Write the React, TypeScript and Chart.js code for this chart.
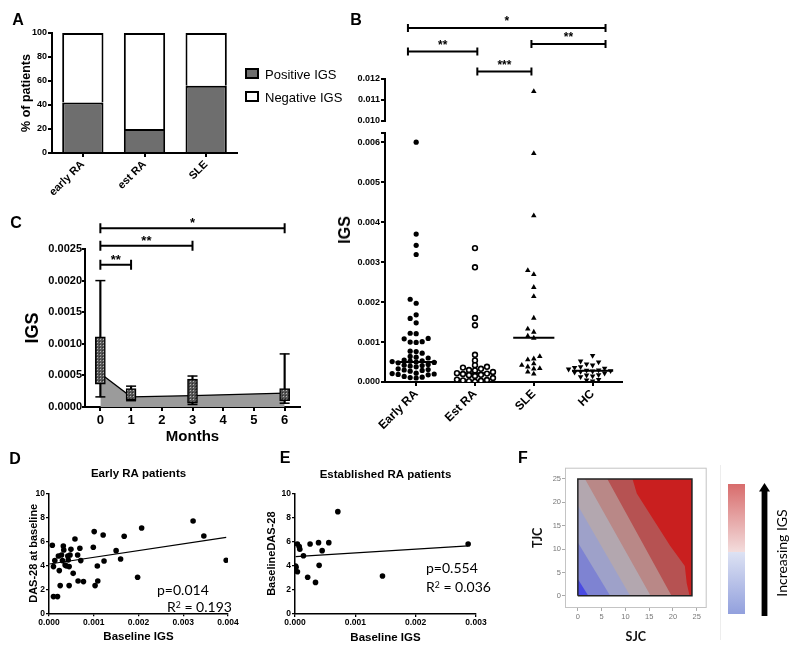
import React, { useEffect, useRef } from "react";
import { Chart, registerables } from "chart.js";

Chart.register(...registerables);

const FONT = "'Liberation Sans', Arial, Helvetica, sans-serif";
const CAL = "Lato, 'Open Sans', sans-serif";
Chart.defaults.font.family = FONT;
Chart.defaults.color = "#000";

// ---------------- Panel A data ----------------
const aCategories = ["early RA", "est RA", "SLE"];
const aPositive = [42, 20, 56];
const aNegative = [58, 80, 44];
const aLegend = ["Positive IGS", "Negative IGS"];
const aTicks = [0, 20, 40, 60, 80, 100];

// ---------------- Panel B data ----------------
const bCategories = ["Early RA", "Est RA", "SLE", "HC"];
const bEarlyRA = [0.006, 0.0037, 0.00342, 0.00319, 0.00207, 0.00197, 0.00168, 0.00159, 0.00148, 0.00122, 0.00121, 0.00109, 0.00108, 0.00101, 0.001, 0.00099, 0.00077, 0.00076, 0.00072, 0.00064, 0.00062, 0.0006, 0.00055, 0.00053, 0.00052, 0.00051, 0.0005, 0.00049, 0.00048, 0.00044, 0.00042, 0.00041, 0.0004, 0.00038, 0.00033, 0.00031, 0.0003, 0.00029, 0.00027, 0.00022, 0.00021, 0.0002, 0.00019, 0.00018, 0.00014, 0.00012, 0.00011, 0.0001];
const bEstRA = [0.00335, 0.00287, 0.0016, 0.00142, 0.00068, 0.00054, 0.00042, 0.00038, 0.00036, 0.00033, 0.0003, 0.00029, 0.00025, 0.00022, 0.00021, 0.0002, 0.00018, 0.00017, 0.00015, 0.0001, 0.00006, 0.00005, 0.00004, 0.00003, 0.00002, 0.00001];
const bSLE = [0.0114, 0.00572, 0.00416, 0.00279, 0.00269, 0.00237, 0.00214, 0.0016, 0.00133, 0.00125, 0.00115, 0.0011, 0.00064, 0.00058, 0.00056, 0.00046, 0.00042, 0.00038, 0.00034, 0.00033, 0.00025, 0.0002];
const bHC = [0.00066, 0.00052, 0.0005, 0.00045, 0.00042, 0.00038, 0.00036, 0.00034, 0.00032, 0.0003, 0.00029, 0.00028, 0.00027, 0.00026, 0.00024, 0.00022, 0.00018, 0.00017, 0.00015, 0.00013, 0.00006, 0.00005, 0.00002];
const bMedians = [0.0005, 0.00022, 0.00111, 0.00028];
const bLowerTicks = [0, 0.001, 0.002, 0.003, 0.004, 0.005, 0.006];
const bLowerMax = 0.00622;
const bUpperTicks = [0.01, 0.011, 0.012];
const bBracketFrom = [-0.14, -0.14, 1.96, 1.04];
const bBracketTo = [3.22, 1.04, 3.22, 1.96];
const bBracketLevel = [0.01445, 0.01332, 0.01368, 0.01236];
const bBracketLabel = ["*", "**", "**", "***"];

// ---------------- Panel C data ----------------
const cMonths = [0, 1, 3, 6];
const cMedian = [0.00053, 0.00016, 0.00018, 0.00022];
const cQ1 = [0.00036, 0.00011, 0.00006, 0.0001];
const cQ3 = [0.00111, 0.00029, 0.00044, 0.00029];
const cMin = [0.00016, 0.0001, 0.00004, 0.00006];
const cMax = [0.002, 0.00033, 0.00049, 0.00084];
const cXTicks = [0, 1, 2, 3, 4, 5, 6];
const cYTicks = [0, 0.0005, 0.001, 0.0015, 0.002, 0.0025];
const cBracketFrom = [0, 0, 0];
const cBracketTo = [6, 3, 1];
const cBracketLevel = [0.00283, 0.00255, 0.00225];
const cBracketLabel = ["*", "**", "**"];

// ---------------- Panel D data ----------------
const dX = [0.000074, 0.0001, 0.0001, 0.00019, 0.00013, 0.00021, 0.00023, 0.00025, 0.00028, 0.0003, 0.00032, 0.00033, 0.00036, 0.00039, 0.00042, 0.00043, 0.00045, 0.00047, 0.00045, 0.00049, 0.00054, 0.00058, 0.00064, 0.00065, 0.00069, 0.00071, 0.00077, 0.00101, 0.00099, 0.00103, 0.00108, 0.00109, 0.00121, 0.00123, 0.0015, 0.0016, 0.00168, 0.00198, 0.00207, 0.00322, 0.00346, 0.00396];
const dY = [5.67, 3.89, 1.39, 1.39, 4.39, 4.78, 3.56, 2.31, 4.86, 4.39, 5.61, 5.28, 4.03, 3.94, 4.78, 4.44, 3.89, 4.86, 2.31, 5.33, 3.33, 6.19, 4.86, 2.69, 5.42, 4.39, 2.64, 6.81, 5.5, 2.31, 3.94, 2.69, 6.53, 4.36, 5.22, 4.53, 6.42, 3.0, 7.11, 7.69, 6.44, 4.42];
const dFitX = [0.00001, 0.00396];
const dFitY = [4.11, 6.33];
const dXTicks = [0, 0.001, 0.002, 0.003, 0.004];
const dYTicks = [0, 2, 4, 6, 8, 10];

// ---------------- Panel E data ----------------
const eX = [0.00001, 0.000017, 0.00004, 0.00004, 0.00007, 0.00008, 0.00014, 0.00021, 0.00025, 0.00034, 0.00039, 0.0004, 0.00045, 0.00056, 0.00071, 0.00145, 0.00287];
const eY = [3.98, 3.87, 3.5, 5.8, 5.58, 5.36, 4.83, 3.04, 5.8, 2.62, 5.91, 4.03, 5.25, 5.91, 8.48, 3.15, 5.8];
const eFitX = [0.00001, 0.00287];
const eFitY = [4.75, 5.64];
const eXTicks = [0, 0.001, 0.002, 0.003];
const eYTicks = [0, 2, 4, 6, 8, 10];

// ---------------- Panel F data ----------------
const fTicks = [0, 5, 10, 15, 20, 25];
const fSjcMax = 24;
const fTjcMax = 25;
const fBandColors = ["#4a4ae2", "#7e83d2", "#9ea1c9", "#b3a7af", "#b98887", "#b65252", "#c91f1f"];
const fBoundaryX = [
  [0, 2.2, 24],
  [0, 6.8, 24],
  [0, 11.0, 24],
  [0, 1.5, 15.3, 24],
  [0, 6.2, 19.7, 24],
  [0, 11.5, 12.4, 19.4, 22.5, 22.9, 23.5, 24],
];
const fBoundaryY = [
  [3.6, 0, 0],
  [11.4, 0, 0],
  [19.3, 0, 0],
  [25, 25, 0, 0],
  [25, 25, 0, 0],
  [25, 25, 21.9, 10.7, 6.4, 2.7, 0, 0],
];

// ---------------- helpers ----------------
const fixedWidth = (w: number) => (s: any) => { s.width = w; };
const fixedHeight = (h: number) => (s: any) => { s.height = h; };
const setTicks = (vals: number[]) => (s: any) => { s.ticks = vals.map((v) => ({ value: v })); };
const zip = (xs: number[], ys: number[]) => xs.map((x, i) => ({ x, y: ys[i] }));

// beeswarm layout (pixel space) -> x offsets in category units
const B_PX_X = 58.8;
const B_PX_Y = 40514;
function swarm(values: number[], minDist: number, step: number): number[] {
  const idx = values.map((_, i) => i).sort((a, b) => values[a] - values[b]);
  const placed: { x: number; y: number }[] = [];
  const out = new Array(values.length).fill(0);
  for (const i of idx) {
    const py = values[i] * B_PX_Y;
    for (let k = 0; k < 60; k++) {
      const cand = k === 0 ? 0 : (k % 2 === 1 ? -1 : 1) * Math.ceil(k / 2) * step;
      if (placed.every((p) => Math.hypot(p.x - cand, p.y - py) >= minDist)) {
        placed.push({ x: cand, y: py });
        out[i] = cand / B_PX_X;
        break;
      }
    }
  }
  return out;
}

const bracketPlugin = {
  id: "brackets",
  afterDraw(chart: any, _args: any, opts: any) {
    if (!opts || !opts.from) return;
    const { ctx, scales } = chart;
    const x = scales.x;
    const y = scales.y;
    ctx.save();
    ctx.strokeStyle = "#000";
    ctx.fillStyle = "#000";
    ctx.lineWidth = opts.lineWidth;
    ctx.font = opts.font;
    ctx.textAlign = "center";
    ctx.textBaseline = "alphabetic";
    for (let i = 0; i < opts.from.length; i++) {
      const x1 = x.getPixelForValue(opts.from[i]);
      const x2 = x.getPixelForValue(opts.to[i]);
      const py = y.getPixelForValue(opts.level[i]);
      ctx.beginPath();
      ctx.moveTo(x1, py);
      ctx.lineTo(x2, py);
      ctx.moveTo(x1, py - opts.cap);
      ctx.lineTo(x1, py + opts.cap);
      ctx.moveTo(x2, py - opts.cap);
      ctx.lineTo(x2, py + opts.cap);
      ctx.stroke();
      ctx.fillText(opts.label[i], (x1 + x2) / 2, py - opts.gap);
    }
    ctx.restore();
  },
};

const framePlugin = {
  id: "frame",
  afterDraw(chart: any, _a: any, opts: any) {
    if (!opts || !opts.color) return;
    const { ctx, chartArea: a } = chart;
    ctx.save();
    ctx.strokeStyle = opts.color;
    ctx.lineWidth = 1;
    ctx.strokeRect(a.left + 0.5, a.top + 0.5, a.width - 1, a.height - 1);
    ctx.restore();
  },
};

const axisGrid = (len: number, w: number) => ({ drawOnChartArea: false, drawTicks: true, tickLength: len, color: "#000", lineWidth: w });
const base = (padding: any) => ({
  responsive: false,
  animation: false,
  devicePixelRatio: 1,
  events: [],
  layout: { padding },
  plugins: { legend: { display: false }, tooltip: { enabled: false }, title: { display: false } },
});

// ---------------- configs ----------------
function configA() {
  return {
    type: "bar",
    data: {
      labels: aCategories,
      datasets: [
        { label: aLegend[0], data: aPositive, backgroundColor: "#6e6e6e", borderColor: "#000", borderWidth: 2, barPercentage: 0.67, categoryPercentage: 1 },
        { label: aLegend[1], data: aNegative, backgroundColor: "#fff", borderColor: "#000", borderWidth: 2, barPercentage: 0.67, categoryPercentage: 1 },
      ],
    },
    options: {
      ...base({ top: 33, right: 8, left: 0, bottom: 0 }),
      scales: {
        x: {
          stacked: true,
          grid: { ...axisGrid(4, 2), offset: false },
          border: { color: "#000", width: 2 },
          ticks: { font: { size: 11, weight: "bold" }, minRotation: 45, maxRotation: 45, padding: 1, autoSkip: false },
          afterFit: fixedHeight(47),
        },
        y: {
          stacked: true,
          min: 0,
          max: 100,
          afterBuildTicks: setTicks(aTicks),
          ticks: { font: { size: 9, weight: "bold" }, padding: 1 },
          grid: axisGrid(4, 2),
          border: { color: "#000", width: 2 },
          title: { display: true, text: "% of patients", font: { size: 12.5, weight: "bold" }, padding: { top: 19, bottom: 0 } },
          afterFit: fixedWidth(52),
        },
      },
    },
  };
}

const bGroups = [bEarlyRA, bEstRA, bSLE, bHC];
const bOffsets = bGroups.map((g) => swarm(g, 4.7, 6.0));
const bStyles = [
  { pointStyle: "circle", pointRadius: 2.6, pointBackgroundColor: "#000", pointBorderColor: "#000", pointBorderWidth: 0 },
  { pointStyle: "circle", pointRadius: 2.4, pointBackgroundColor: "#fff", pointBorderColor: "#000", pointBorderWidth: 1.6 },
  { pointStyle: "triangle", pointRadius: 3.2, pointBackgroundColor: "#000", pointBorderColor: "#000", pointBorderWidth: 0 },
  { pointStyle: "triangle", pointRotation: 180, pointRadius: 3.2, pointBackgroundColor: "#000", pointBorderColor: "#000", pointBorderWidth: 0 },
];

function bDatasets(lo: number, hi: number) {
  const pts = bGroups.map((g, gi) => ({
    type: "scatter",
    label: bCategories[gi],
    data: g.map((v, i) => ({ x: gi + bOffsets[gi][i], y: v })).filter((p) => p.y >= lo && p.y <= hi),
    ...bStyles[gi],
  }));
  const meds = bMedians
    .map((m, i) => ({
      type: "line",
      label: "median " + bCategories[i],
      data: [{ x: i - 0.35, y: m }, { x: i + 0.35, y: m }],
      borderColor: "#000",
      borderWidth: 2,
      pointRadius: 0,
    }))
    .filter((d) => d.data[0].y >= lo && d.data[0].y <= hi);
  return [...pts, ...meds];
}

function configBUpper() {
  return {
    type: "scatter",
    data: { datasets: bDatasets(0.0095, 0.0125) },
    plugins: [bracketPlugin],
    options: {
      ...base({ top: 79, right: 8, left: 0, bottom: 4 }),
      plugins: {
        legend: { display: false },
        tooltip: { enabled: false },
        brackets: { from: bBracketFrom, to: bBracketTo, level: bBracketLevel, label: bBracketLabel, lineWidth: 2, cap: 4, gap: 3, font: "bold 12px " + FONT },
      },
      scales: {
        x: { type: "linear", min: -0.53, max: 3.5, display: false },
        y: {
          min: 0.01,
          max: 0.012,
          afterBuildTicks: setTicks(bUpperTicks),
          ticks: { font: { size: 9, weight: "bold" }, padding: 1, callback: (v: any) => Number(v).toFixed(3) },
          grid: axisGrid(4, 2),
          border: { color: "#000", width: 2 },
          afterFit: fixedWidth(55),
        },
      },
    },
  };
}

function configBLower() {
  return {
    type: "scatter",
    data: { datasets: bDatasets(0, bLowerMax) },
    options: {
      ...base({ top: 3, right: 8, left: 0, bottom: 0 }),
      scales: {
        x: {
          type: "linear",
          min: -0.53,
          max: 3.5,
          afterBuildTicks: setTicks([0, 1, 2, 3]),
          ticks: { font: { size: 12, weight: "bold" }, minRotation: 45, maxRotation: 45, padding: 1, autoSkip: false, callback: (v: any) => bCategories[Math.round(Number(v))] ?? "" },
          grid: axisGrid(4, 2),
          border: { color: "#000", width: 2 },
          afterFit: fixedHeight(48),
        },
        y: {
          min: 0,
          max: bLowerMax,
          afterBuildTicks: setTicks([...bLowerTicks, bLowerMax]),
          ticks: { font: { size: 9, weight: "bold" }, padding: 1, callback: (v: any) => (Number(v) > 0.0061 ? "" : Number(v).toFixed(3)) },
          grid: axisGrid(4, 2),
          border: { color: "#000", width: 2 },
          afterFit: fixedWidth(55),
        },
      },
    },
  };
}

function makePattern(canvas: HTMLCanvasElement) {
  const c = document.createElement("canvas");
  c.width = 3;
  c.height = 3;
  const g = c.getContext("2d")!;
  g.fillStyle = "#575757";
  g.fillRect(0, 0, 3, 3);
  g.fillStyle = "#b8b8b8";
  g.fillRect(1, 1, 1, 1);
  g.fillStyle = "#2e2e2e";
  g.fillRect(0, 0, 1, 1);
  return canvas.getContext("2d")!.createPattern(c, "repeat");
}

function configC(canvas: HTMLCanvasElement) {
  const pattern = makePattern(canvas);
  return {
    type: "bar",
    data: {
      datasets: [
        { type: "bar", label: "IQR", data: cMonths.map((m, i) => ({ x: m, y: [cQ1[i], cQ3[i]] })), backgroundColor: pattern, borderColor: "#000", borderWidth: 1.5, borderSkipped: false, barThickness: 10, grouped: false, order: 0 },
        { type: "scatter", label: "caps", data: [...cMonths.map((m, i) => ({ x: m, y: cMin[i] })), ...cMonths.map((m, i) => ({ x: m, y: cMax[i] }))], pointStyle: "line", pointRadius: 5, pointBorderColor: "#000", pointBorderWidth: 1.5, order: 1 },
        { type: "bar", label: "range", data: cMonths.map((m, i) => ({ x: m, y: [cMin[i], cMax[i]] })), backgroundColor: "#000", borderWidth: 0, barThickness: 1.5, grouped: false, order: 2 },
        { type: "line", label: "median", data: zip(cMonths, cMedian), borderColor: "#000", borderWidth: 1.3, pointRadius: 0, fill: "origin", backgroundColor: "#9b9b9b", order: 3 },
      ],
    },
    plugins: [bracketPlugin],
    options: {
      ...base({ top: 49, right: 20, left: 0, bottom: 0 }),
      plugins: {
        legend: { display: false },
        tooltip: { enabled: false },
        brackets: { from: cBracketFrom, to: cBracketTo, level: cBracketLevel, label: cBracketLabel, lineWidth: 2, cap: 5, gap: 1, font: "bold 13px " + FONT },
      },
      scales: {
        x: {
          type: "linear",
          offset: false,
          min: -0.5,
          max: 6.5,
          afterBuildTicks: setTicks(cXTicks),
          ticks: { font: { size: 13, weight: "bold" }, padding: 2, autoSkip: false, callback: (v: any) => String(v) },
          grid: { ...axisGrid(4, 2), offset: false },
          border: { color: "#000", width: 2 },
          title: { display: true, text: "Months", font: { size: 15, weight: "bold" }, padding: { top: 0, bottom: 4 } },
          afterFit: fixedHeight(43),
        },
        y: {
          min: 0,
          max: 0.0025,
          afterBuildTicks: setTicks(cYTicks),
          ticks: { font: { size: 11, weight: "bold" }, padding: 0, callback: (v: any) => Number(v).toFixed(4) },
          grid: axisGrid(3, 2),
          border: { color: "#000", width: 2 },
          title: { display: true, text: "IGS", font: { size: 18, weight: "bold" }, padding: { top: 22, bottom: 0 } },
          afterFit: fixedWidth(85),
        },
      },
    },
  };
}

function scatterConfig(o: any) {
  return {
    type: "scatter",
    data: {
      datasets: [
        { type: "scatter", label: "patients", data: zip(o.x, o.y), pointRadius: 2.8, pointBackgroundColor: "#000", pointBorderWidth: 0 },
        { type: "line", label: "fit", data: zip(o.fitX, o.fitY), borderColor: "#000", borderWidth: 1.2, pointRadius: 0 },
      ],
    },
    options: {
      ...base({ top: 0, right: o.padRight, left: 0, bottom: 0 }),
      plugins: {
        legend: { display: false },
        tooltip: { enabled: false },
        title: { display: true, text: o.title, fullSize: false, color: "#000", font: { size: 11.5, weight: "bold" }, padding: { top: o.titleTop, bottom: o.titleBottom } },
      },
      scales: {
        x: {
          type: "linear",
          min: 0,
          max: o.xMax,
          afterBuildTicks: setTicks(o.xTicks),
          ticks: { font: { size: 8.5, weight: "bold" }, padding: 1, autoSkip: false, callback: (v: any) => Number(v).toFixed(3) },
          grid: axisGrid(3, 1.3),
          border: { color: "#000", width: 1.5 },
          title: { display: true, text: "Baseline IGS", font: { size: 11.5, weight: "bold" }, padding: { top: 0, bottom: o.xTitleBottom } },
          afterFit: fixedHeight(o.xHeight),
        },
        y: {
          min: 0,
          max: 10,
          afterBuildTicks: setTicks(o.yTicks),
          ticks: { font: { size: 8.5, weight: "bold" }, padding: 1, callback: (v: any) => String(v) },
          grid: axisGrid(3, 1.3),
          border: { color: "#000", width: 1.5 },
          title: { display: true, text: o.yTitle, font: { size: 11, weight: "bold" }, padding: { top: o.yTitleTop, bottom: 0 } },
          afterFit: fixedWidth(o.yWidth),
        },
      },
    },
  };
}

function configD() {
  return scatterConfig({ x: dX, y: dY, fitX: dFitX, fitY: dFitY, xMax: 0.004, xTicks: dXTicks, yTicks: dYTicks, title: "Early RA patients", yTitle: "DAS-28 at baseline", padRight: 12, titleTop: 22, titleBottom: 12.5, xTitleBottom: 12, xHeight: 42.7, yTitleTop: 27.4, yWidth: 49 });
}

function configE() {
  return scatterConfig({ x: eX, y: eY, fitX: eFitX, fitY: eFitY, xMax: 0.003, xTicks: eXTicks, yTicks: eYTicks, title: "Established RA patients", yTitle: "BaselineDAS-28", padRight: 22, titleTop: 23, titleBottom: 11.5, xTitleBottom: 11, xHeight: 42, yTitleTop: 7.1, yWidth: 37 });
}

function configF() {
  const top = { type: "line", label: "top", data: [{ x: 0, y: fTjcMax }, { x: fSjcMax, y: fTjcMax }], borderColor: "rgba(0,0,0,0)", borderWidth: 0, pointRadius: 0, fill: false, order: 30 };
  const bottom = { type: "line", label: "band 0", data: [{ x: 0, y: 0 }, { x: fSjcMax, y: 0 }], borderWidth: 0, borderColor: "rgba(0,0,0,0)", pointRadius: 0, fill: 0, backgroundColor: fBandColors[0], order: 20 };
  const bands = fBoundaryX.map((xs, k) => ({
    type: "line",
    label: "band " + (k + 1),
    data: zip(xs, fBoundaryY[k]),
    borderWidth: 0,
    borderColor: "rgba(0,0,0,0)",
    pointRadius: 0,
    fill: 0,
    backgroundColor: fBandColors[k + 1],
    order: 9 - k,
  }));
  const rect = { type: "line", label: "frame", data: [{ x: 0, y: 0 }, { x: fSjcMax, y: 0 }, { x: fSjcMax, y: fTjcMax }, { x: 0, y: fTjcMax }, { x: 0, y: 0 }], borderColor: "#222", borderWidth: 1.5, pointRadius: 0, fill: false, order: 0 };
  const tickFont = { size: 7.5, weight: "normal", family: FONT };
  return {
    type: "scatter",
    data: { datasets: [top, bottom, ...bands, rect] },
    plugins: [framePlugin],
    options: {
      ...base({ top: 22.7, right: 13.3, left: 0, bottom: 0 }),
      plugins: { legend: { display: false }, tooltip: { enabled: false }, frame: { color: "#c4c4c4" } },
      scales: {
        x: {
          type: "linear",
          min: -2.7,
          max: 27.1,
          afterBuildTicks: setTicks(fTicks),
          ticks: { font: tickFont, color: "#777", padding: 1, autoSkip: false, callback: (v: any) => String(v) },
          grid: { drawOnChartArea: false, tickLength: 3, color: "#aaa", lineWidth: 1 },
          border: { display: false },
          title: { display: true, text: "SJC", color: "#111", font: { size: 12.5, weight: "bold", family: CAL }, padding: { top: 0, bottom: 12 } },
          afterFit: fixedHeight(48),
        },
        y: {
          min: -2.6,
          max: 27.4,
          afterBuildTicks: setTicks(fTicks),
          ticks: { font: tickFont, color: "#777", padding: 1, autoSkip: false, callback: (v: any) => String(v) },
          grid: { drawOnChartArea: false, tickLength: 3, color: "#aaa", lineWidth: 1 },
          border: { display: false },
          title: { display: true, text: "TJC", color: "#111", font: { size: 12.5, weight: "bold", family: CAL }, padding: { top: 0.8, bottom: 0 } },
          afterFit: fixedWidth(35),
        },
      },
    },
  };
}

// ---------------- components ----------------
function ChartCanvas({ left, top, width, height, make }: { left: number; top: number; width: number; height: number; make: (c: HTMLCanvasElement) => any }) {
  const ref = useRef<HTMLCanvasElement | null>(null);
  useEffect(() => {
    if (!ref.current) return;
    const chart = new Chart(ref.current, make(ref.current));
    return () => chart.destroy();
  }, [make]);
  return <canvas ref={ref} width={width} height={height} style={{ position: "absolute", left, top, width, height }} />;
}

function Txt({ x, y, children, size, weight = "bold", family = FONT, rotate = 0, align = "center" }: any) {
  const tx = align === "center" ? "-50%" : "0";
  return (
    <div
      style={{
        position: "absolute",
        left: x,
        top: y,
        transform: `translate(${tx}, -50%) rotate(${rotate}deg)`,
        fontSize: size,
        fontWeight: weight,
        fontFamily: family,
        color: "#000",
        whiteSpace: "nowrap",
        lineHeight: 1,
      }}
    >
      {children}
    </div>
  );
}

function Sup({ children }: any) {
  return <span style={{ fontSize: "0.62em", verticalAlign: "0.5em" }}>{children}</span>;
}

export default function App() {
  return (
    <div style={{ position: "absolute", left: 0, top: 0, width: 800, height: 656, background: "#fff", overflow: "hidden", fontFamily: FONT }}>
      <ChartCanvas left={0} top={0} width={245} height={200} make={configA} />
      <ChartCanvas left={330} top={0} width={300} height={127} make={configBUpper} />
      <ChartCanvas left={330} top={127} width={300} height={303} make={configBLower} />
      <ChartCanvas left={0} top={200} width={320} height={250} make={configC} />
      <ChartCanvas left={0} top={445} width={240} height={211} make={configD} />
      <ChartCanvas left={258} top={445} width={240} height={211} make={configE} />
      <ChartCanvas left={530} top={445} width={190} height={211} make={configF} />

      {/* panel letters */}
      <Txt x={18} y={20} size={16}>A</Txt>
      <Txt x={356} y={20} size={16}>B</Txt>
      <Txt x={16} y={223} size={16}>C</Txt>
      <Txt x={15} y={459} size={16}>D</Txt>
      <Txt x={285} y={458} size={16}>E</Txt>
      <Txt x={523} y={458} size={16}>F</Txt>

      {/* A legend */}
      {aLegend.map((t, i) => (
        <React.Fragment key={t}>
          <div style={{ position: "absolute", left: 245, top: 68 + i * 23.3, width: 14, height: 11, boxSizing: "border-box", border: "2px solid #000", background: i === 0 ? "#6e6e6e" : "#fff" }} />
          <Txt x={265} y={73.5 + i * 23.3} size={13} weight="normal" align="left">{t}</Txt>
        </React.Fragment>
      ))}

      {/* B axis title */}
      <Txt x={345} y={230} size={16} rotate={-90}>IGS</Txt>

      {/* D / E statistics */}
      <Txt x={157} y={590} size={14} weight="normal" family={CAL} align="left">p=0.014</Txt>
      <Txt x={167} y={607} size={14} weight="normal" family={CAL} align="left">R<Sup>2</Sup> = 0.193</Txt>
      <Txt x={426} y={568} size={14} weight="normal" family={CAL} align="left">p=0.554</Txt>
      <Txt x={426} y={587} size={14} weight="normal" family={CAL} align="left">R<Sup>2</Sup> = 0.036</Txt>

      {/* F colour key */}
      <div style={{ position: "absolute", left: 720, top: 465, width: 1, height: 175, background: "#ededed" }} />
      <div
        style={{
          position: "absolute",
          left: 728,
          top: 484,
          width: 17,
          height: 130,
          background: "linear-gradient(to bottom, #d86c6c 0%, #f3dddd 52.5%, #dde2f3 52.5%, #92a0dd 100%)",
        }}
      />
      <svg style={{ position: "absolute", left: 758.5, top: 482.5 }} width={11} height={133} viewBox="0 0 11 133">
        <polygon points="0,8.5 5.5,0 11,8.5" fill="#000" />
        <rect x={2.6} y={7} width={5.8} height={126} fill="#000" />
      </svg>
      <Txt x={782} y={553} size={14} weight="normal" family={CAL} rotate={-90}>Increasing IGS</Txt>
    </div>
  );
}
